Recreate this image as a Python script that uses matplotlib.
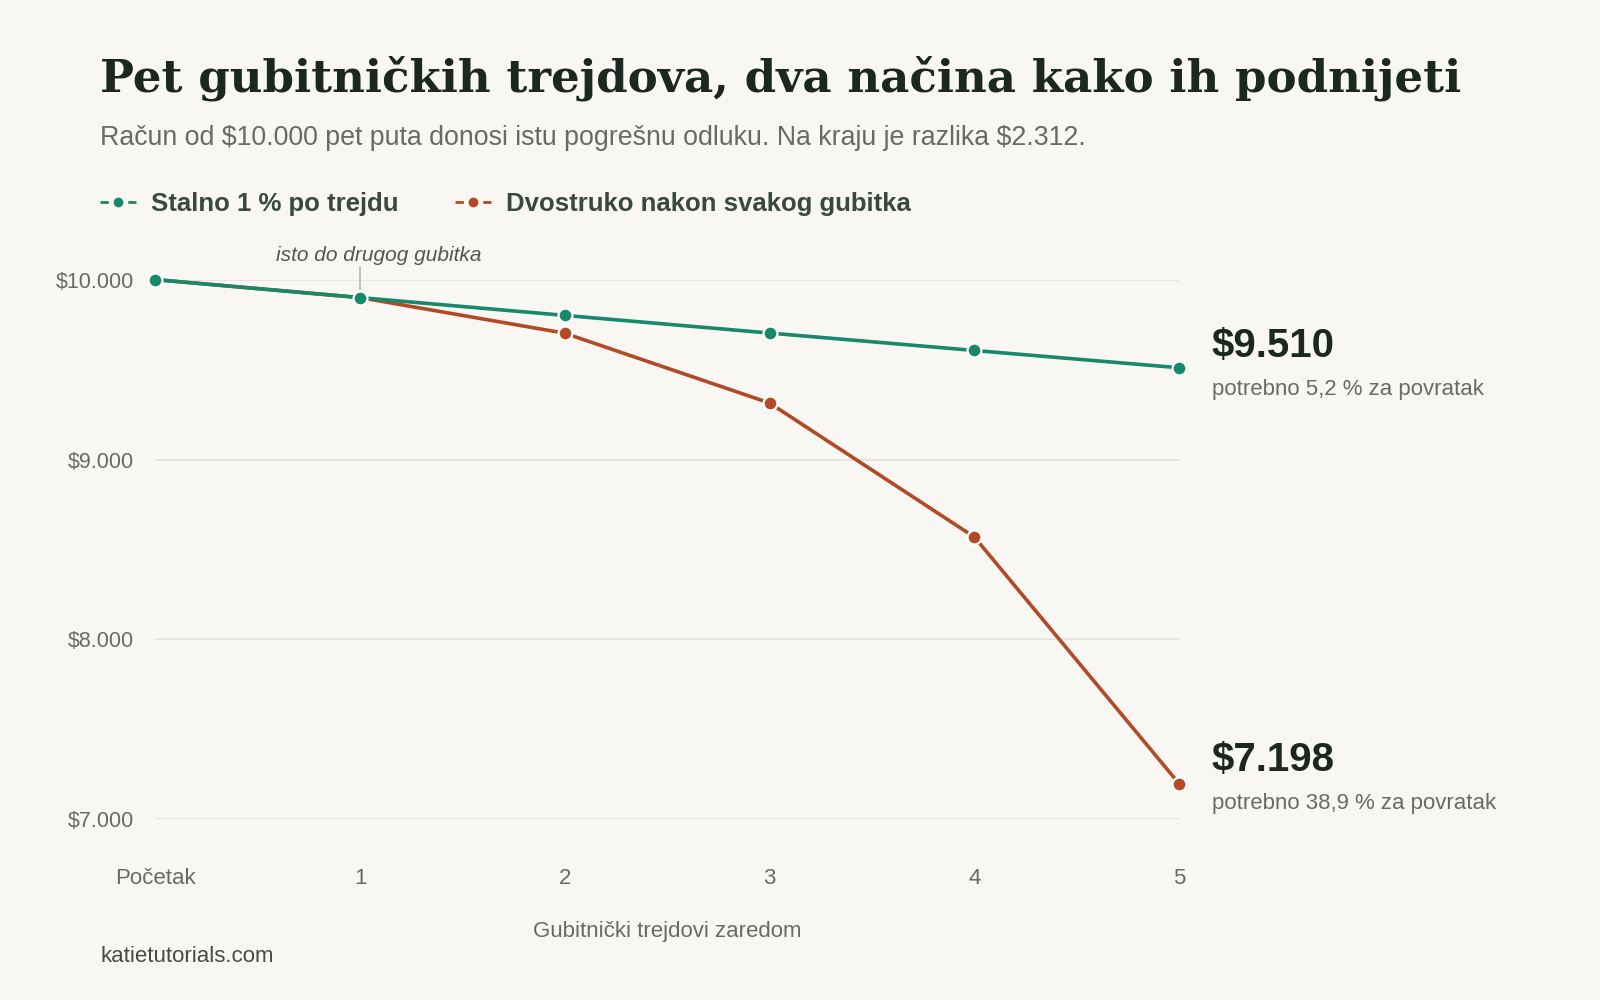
import matplotlib
matplotlib.use("Agg")
import matplotlib.pyplot as plt
from matplotlib.lines import Line2D

# data
steps = [0, 1, 2, 3, 4, 5]
step_labels = ["Početak", "1", "2", "3", "4", "5"]
flat_risk = [10000, 9900, 9801, 9703, 9606, 9510]
doubling = [10000, 9900, 9702, 9314, 8569, 7198]
y_ticks = [7000, 8000, 9000, 10000]
y_tick_labels = [r"\$7.000", r"\$8.000", r"\$9.000", r"\$10.000"]

green = "#17896a"
rust = "#b24a26"
bg = "#f8f7f3"
dark = "#1c2722"
grey = "#6b6a62"

plt.rcParams["font.family"] = ["Liberation Sans", "DejaVu Sans"]

fig = plt.figure(figsize=(16, 10), dpi=100, facecolor=bg)
ax = fig.add_axes([0.097, 0.1806, 0.640, 0.5398])
ax.set_facecolor(bg)

for yt in y_ticks:
    ax.axhline(yt, color="#e4e2dc", lw=1.2, zorder=0)

ax.plot(steps, flat_risk, color=green, lw=2.6, marker="o", ms=10,
        mfc=green, mec="white", mew=1.6, clip_on=False, zorder=3)
ax.plot(steps, doubling, color=rust, lw=2.6, marker="o", ms=10,
        mfc=rust, mec="white", mew=1.6, clip_on=False, zorder=2)

ax.set_xlim(0, 5)
ax.set_ylim(7000, 10000)
for s in ax.spines.values():
    s.set_visible(False)
ax.set_yticks(y_ticks)
ax.set_yticklabels(y_tick_labels, fontsize=15.5, color=grey)
ax.set_xticks(steps)
ax.set_xticklabels(step_labels, fontsize=16, color=grey)
ax.tick_params(length=0)
ax.tick_params(axis="y", pad=15)
ax.tick_params(axis="x", pad=35)
ax.set_xlabel("Gubitnički trejdovi zaredom", fontsize=16, color=grey, labelpad=23)

# annotation at step 1
ax.plot([1, 1], [9945, 10070], color="#b8b6ae", lw=1.2, clip_on=False, zorder=1)
ax.text(0.59, 10135, "isto do drugog gubitka", fontsize=15, color="#55544d",
        style="italic", ha="left", va="center")

# end labels
ax.text(5.16, 9631, r"\$" + f"{flat_risk[-1]:,}".replace(",", "."), fontsize=29,
        fontweight="bold", color=dark, ha="left", va="center")
ax.text(5.16, 9390, "potrebno 5,2 % za povratak", fontsize=16, color=grey,
        ha="left", va="center")
ax.text(5.16, 7328, r"\$" + f"{doubling[-1]:,}".replace(",", "."), fontsize=29,
        fontweight="bold", color=dark, ha="left", va="center")
ax.text(5.16, 7088, "potrebno 38,9 % za povratak", fontsize=16, color=grey,
        ha="left", va="center")

# title block
fig.text(0.0625, 0.922, "Pet gubitničkih trejdova, dva načina kako ih podnijeti",
         fontsize=32.5, fontweight="bold", color=dark, va="center",
         family=["DejaVu Serif"])
fig.text(0.0625, 0.862, r"Račun od \$10.000 pet puta donosi istu pogrešnu odluku. Na kraju je razlika \$2.312.",
         fontsize=19.3, color=grey, va="center")

handles = [
    Line2D([], [], color=green, lw=2, ls=(0, (3, 2)), marker="o", ms=6,
           mfc=green, mec=green),
    Line2D([], [], color=rust, lw=2, ls=(0, (3, 2)), marker="o", ms=6,
           mfc=rust, mec=rust),
]
leg = fig.legend(handles, ["Stalno 1 % po trejdu", "Dvostruko nakon svakog gubitka"],
                 loc="center left", bbox_to_anchor=(0.051, 0.796), ncol=2,
                 frameon=False, handlelength=1.4, handletextpad=0.6,
                 columnspacing=2.2, borderpad=0.2,
                 prop={"size": 18.5, "weight": "bold"})
for t in leg.get_texts():
    t.set_color("#3a4842")

fig.text(0.0625, 0.043, "katietutorials.com", fontsize=16, color="#4a4a44", va="center")

fig.savefig("out.png", dpi=100, facecolor=bg)
